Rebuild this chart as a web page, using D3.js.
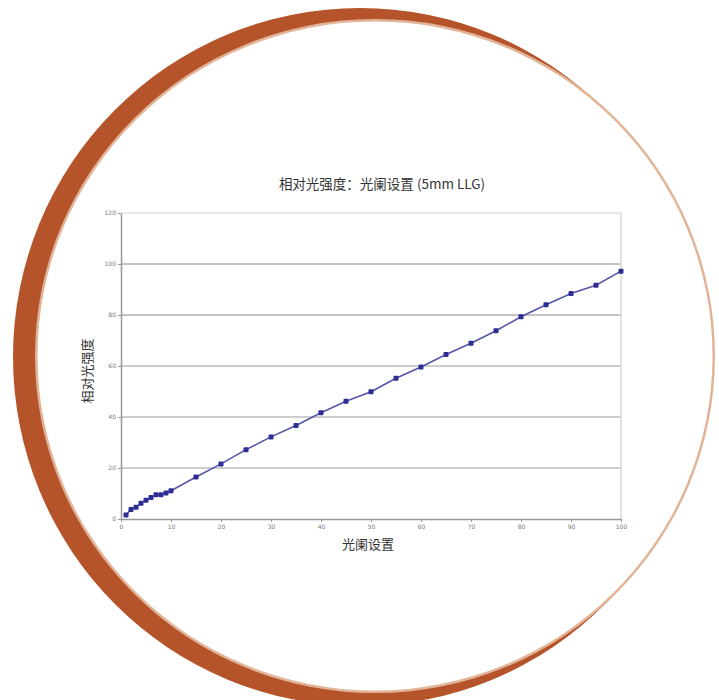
<!DOCTYPE html>
<html>
<head>
<meta charset="utf-8">
<script src="https://cdn.jsdelivr.net/npm/d3@7"></script>
<style>
  body { margin: 0; background: #fff; }
  svg { display: block; }
</style>
</head>
<body>
<div id="chart"></div>
<script>
// 数据
const apertures = [1, 2, 3, 4, 5, 6, 7, 8, 9, 10, 15, 20, 25, 30, 35, 40, 45, 50,
  55, 60, 65, 70, 75, 80, 85, 90, 95, 100];
const intensity = [1.6, 3.7, 4.6, 6.2, 7.4, 8.4, 9.5, 9.5, 10.2, 11.1, 16.5, 21.6,
  27.2, 32.2, 36.7, 41.7, 46.2, 49.9, 55.2, 59.6, 64.5, 68.9, 73.8, 79.3, 84.0,
  88.4, 91.7, 97.2];
const xTicks = [0, 10, 20, 30, 40, 50, 60, 70, 80, 90, 100];
const yTicks = [0, 20, 40, 60, 80, 100, 120];

const width = 719;
const height = 700;

const svg = d3.select("#chart")
  .append("svg")
  .attr("width", width)
  .attr("height", height);

// 背景圆
svg.append("ellipse")
  .attr("cx", 360).attr("cy", 357).attr("rx", 347).attr("ry", 349)
  .attr("fill", "#b5532a");
svg.append("ellipse")
  .attr("cx", 375).attr("cy", 356).attr("rx", 340).attr("ry", 337)
  .attr("fill", "#e2b497");
svg.append("ellipse")
  .attr("cx", 375).attr("cy", 356).attr("rx", 337.5).attr("ry", 334.5)
  .attr("fill", "#fff");

// 比例尺
const x = d3.scaleLinear().domain([0, 100]).range([121, 621]);
const y = d3.scaleLinear().domain([0, 120]).range([519, 213]);

// 网格线
svg.append("g")
  .selectAll("line")
  .data(yTicks.filter(d => d > 0))
  .join("line")
  .attr("x1", x(0)).attr("x2", x(100))
  .attr("y1", d => y(d)).attr("y2", d => y(d))
  .attr("stroke", d => d === 120 ? "#e2e2e2" : (d >= 80 ? "#c4c4c4" : "#9a9a9a"))
  .attr("stroke-width", d => d === 120 ? 1.5 : (d >= 80 ? 2 : 1));

// 右边框
svg.append("line")
  .attr("x1", x(100)).attr("x2", x(100))
  .attr("y1", y(120)).attr("y2", y(0))
  .attr("stroke", "#d8d8d8").attr("stroke-width", 1.5);

// X轴
const xAxis = svg.append("g")
  .attr("transform", "translate(0," + y(0) + ")")
  .call(d3.axisBottom(x).tickValues(xTicks).tickSize(3).tickSizeOuter(0));

// Y轴
const yAxis = svg.append("g")
  .attr("transform", "translate(" + x(0) + ",0)")
  .call(d3.axisLeft(y).tickValues(yTicks).tickSize(3).tickSizeOuter(0));

[xAxis, yAxis].forEach(g => {
  g.select(".domain").attr("stroke", "#999").attr("stroke-width", 1.5);
  g.selectAll(".tick line").attr("stroke", "#999");
  g.selectAll(".tick text")
    .attr("fill", "#777")
    .style("font-family", "DejaVu Sans, sans-serif")
    .style("font-size", "6px");
});
yAxis.selectAll(".tick text").attr("x", -5);
xAxis.selectAll(".tick text").attr("y", 6);

// 折线
const points = apertures.map((a, i) => ({ a: a, v: intensity[i] }));
const line = d3.line()
  .x(d => x(d.a))
  .y(d => y(d.v));

svg.append("path")
  .datum(points)
  .attr("fill", "none")
  .attr("stroke", "#5656a8")
  .attr("stroke-width", 1.6)
  .attr("d", line);

svg.append("g")
  .selectAll("rect")
  .data(points)
  .join("rect")
  .attr("x", d => x(d.a) - 2.5)
  .attr("y", d => y(d.v) - 2.5)
  .attr("width", 5)
  .attr("height", 5)
  .attr("rx", 1)
  .attr("fill", "#2d2d96");

// 标题
const font = "'Noto Sans CJK SC', 'Noto Sans', sans-serif";
svg.append("text")
  .attr("x", 382).attr("y", 189)
  .attr("text-anchor", "middle")
  .attr("fill", "#333")
  .style("font-family", font)
  .style("font-size", "13.5px")
  .text("相对光强度：光阑设置 (5mm LLG)");

svg.append("text")
  .attr("x", 368).attr("y", 549)
  .attr("text-anchor", "middle")
  .attr("fill", "#333")
  .style("font-family", font)
  .style("font-size", "13px")
  .text("光阑设置");

svg.append("text")
  .attr("transform", "translate(92,371) rotate(-90)")
  .attr("text-anchor", "middle")
  .attr("fill", "#333")
  .style("font-family", font)
  .style("font-size", "13px")
  .text("相对光强度");
</script>
</body>
</html>
